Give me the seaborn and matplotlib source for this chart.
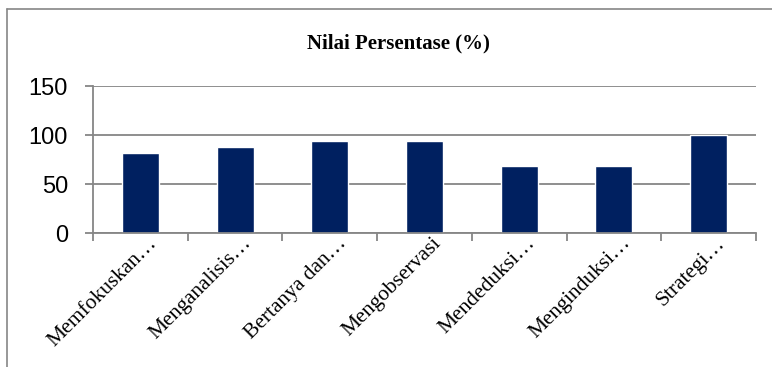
import matplotlib
matplotlib.use("Agg")
import matplotlib.pyplot as plt
import matplotlib.transforms as mtransforms
from matplotlib.lines import Line2D
import seaborn as sns

sns.set_theme(style="white")

# data
categories = ["Memfokuskan…", "Menganalisis…", "Bertanya dan…", "Mengobservasi",
              "Mendeduksi…", "Menginduksi…", "Strategi…"]
values = [81.25, 87.5, 93.75, 93.75, 68.75, 68.75, 100]
yticks = [0, 50, 100, 150]
title = "Nilai Persentase (%)"

grid_c = "#868686"

fig = plt.figure(figsize=(7.72, 3.67), dpi=100)
ax = fig.add_axes([93 / 772, 1 - 233 / 367, (756 - 93) / 772, (233 - 86) / 367])

sns.barplot(x=categories, y=values, color="#002060", width=0.39, saturation=1, ax=ax)

ax.set_ylim(0, 150)
ax.set_xlim(-0.5, len(categories) - 0.5)
ax.set_yticks(yticks)
ax.set_yticklabels([str(t) for t in yticks], family="Liberation Sans", fontsize=17, color="black")
ax.yaxis.grid(True, color=grid_c, linewidth=1.3)
ax.set_axisbelow(True)
for s in ["top", "right"]:
    ax.spines[s].set_visible(False)
for s in ["left", "bottom"]:
    ax.spines[s].set_color(grid_c)
    ax.spines[s].set_linewidth(1.3)
ax.tick_params(axis="y", length=6, width=1.3, color=grid_c, direction="out", left=True, pad=12)

# category boundary ticks
ax.set_xticks([i - 0.5 for i in range(len(categories) + 1)], minor=True)
ax.tick_params(axis="x", which="minor", length=6, width=1.3, color=grid_c, direction="out", bottom=True)
ax.tick_params(axis="x", which="major", length=0)
ax.set_xticks(range(len(categories)))
ax.set_xticklabels(categories, rotation=45, ha="right", va="top", rotation_mode="anchor",
                   family="Liberation Serif", fontsize=15.5, color="black")
offset = mtransforms.ScaledTranslation(7 / 100, 4 / 100, fig.dpi_scale_trans)
for lab in ax.get_xticklabels():
    lab.set_transform(lab.get_transform() + offset)
ax.set_xlabel("")
ax.set_ylabel("")

fig.text(398 / 772, 1 - 43 / 367, title, ha="center", va="center", color="black",
         family="Liberation Serif", fontweight="bold", fontsize=15)

# outer chart frame (only top and left edges visible)
fig.add_artist(Line2D([7 / 772, 1], [1 - 9 / 367, 1 - 9 / 367], transform=fig.transFigure,
                      color=grid_c, linewidth=1.2))
fig.add_artist(Line2D([7 / 772, 7 / 772], [0, 1 - 9 / 367], transform=fig.transFigure,
                      color=grid_c, linewidth=1.2))

fig.savefig("out.png", dpi=100)
